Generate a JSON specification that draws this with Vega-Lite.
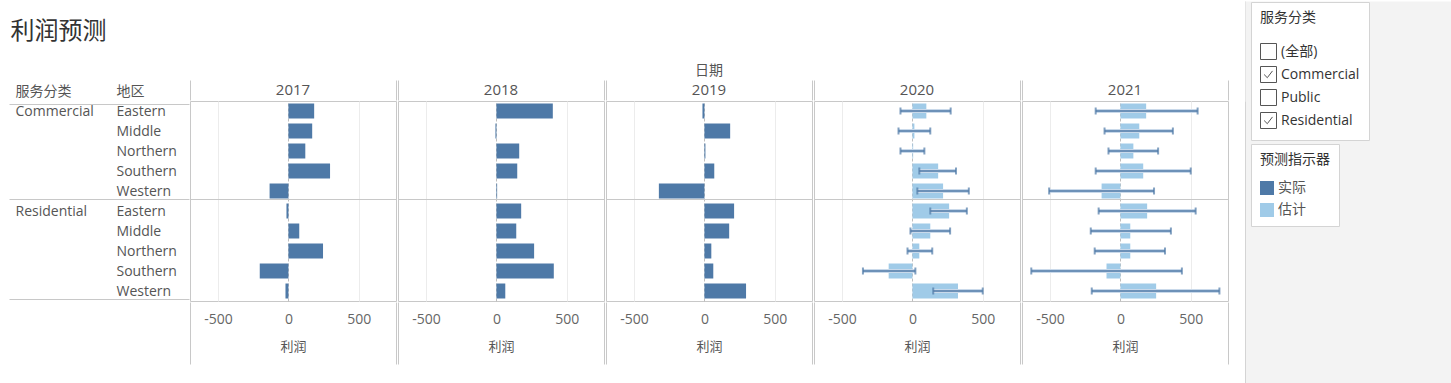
{
  "$schema": "https://vega.github.io/schema/vega-lite/v6.json",
  "padding": {"left": 8, "top": 0, "right": 0, "bottom": 0},
  "background": "white",
  "data": {"values": [
    {"年份": "2017", "服务分类": "Commercial", "地区": "Eastern", "行": "Commercial|Eastern", "利润": 183, "预测指示器": "实际"},
    {"年份": "2017", "服务分类": "Commercial", "地区": "Middle", "行": "Commercial|Middle", "利润": 169, "预测指示器": "实际"},
    {"年份": "2017", "服务分类": "Commercial", "地区": "Northern", "行": "Commercial|Northern", "利润": 120, "预测指示器": "实际"},
    {"年份": "2017", "服务分类": "Commercial", "地区": "Southern", "行": "Commercial|Southern", "利润": 296, "预测指示器": "实际"},
    {"年份": "2017", "服务分类": "Commercial", "地区": "Western", "行": "Commercial|Western", "利润": -134, "预测指示器": "实际"},
    {"年份": "2017", "服务分类": "Residential", "地区": "Eastern", "行": "Residential|Eastern", "利润": -14, "预测指示器": "实际"},
    {"年份": "2017", "服务分类": "Residential", "地区": "Middle", "行": "Residential|Middle", "利润": 77, "预测指示器": "实际"},
    {"年份": "2017", "服务分类": "Residential", "地区": "Northern", "行": "Residential|Northern", "利润": 246, "预测指示器": "实际"},
    {"年份": "2017", "服务分类": "Residential", "地区": "Southern", "行": "Residential|Southern", "利润": -204, "预测指示器": "实际"},
    {"年份": "2017", "服务分类": "Residential", "地区": "Western", "行": "Residential|Western", "利润": -21, "预测指示器": "实际"},
    {"年份": "2018", "服务分类": "Commercial", "地区": "Eastern", "行": "Commercial|Eastern", "利润": 401, "预测指示器": "实际"},
    {"年份": "2018", "服务分类": "Commercial", "地区": "Middle", "行": "Commercial|Middle", "利润": -7, "预测指示器": "实际"},
    {"年份": "2018", "服务分类": "Commercial", "地区": "Northern", "行": "Commercial|Northern", "利润": 162, "预测指示器": "实际"},
    {"年份": "2018", "服务分类": "Commercial", "地区": "Southern", "行": "Commercial|Southern", "利润": 148, "预测指示器": "实际"},
    {"年份": "2018", "服务分类": "Commercial", "地区": "Western", "行": "Commercial|Western", "利润": 5, "预测指示器": "实际"},
    {"年份": "2018", "服务分类": "Residential", "地区": "Eastern", "行": "Residential|Eastern", "利润": 176, "预测指示器": "实际"},
    {"年份": "2018", "服务分类": "Residential", "地区": "Middle", "行": "Residential|Middle", "利润": 141, "预测指示器": "实际"},
    {"年份": "2018", "服务分类": "Residential", "地区": "Northern", "行": "Residential|Northern", "利润": 268, "预测指示器": "实际"},
    {"年份": "2018", "服务分类": "Residential", "地区": "Southern", "行": "Residential|Southern", "利润": 408, "预测指示器": "实际"},
    {"年份": "2018", "服务分类": "Residential", "地区": "Western", "行": "Residential|Western", "利润": 63, "预测指示器": "实际"},
    {"年份": "2019", "服务分类": "Commercial", "地区": "Eastern", "行": "Commercial|Eastern", "利润": -14, "预测指示器": "实际"},
    {"年份": "2019", "服务分类": "Commercial", "地区": "Middle", "行": "Commercial|Middle", "利润": 183, "预测指示器": "实际"},
    {"年份": "2019", "服务分类": "Commercial", "地区": "Northern", "行": "Commercial|Northern", "利润": 7, "预测指示器": "实际"},
    {"年份": "2019", "服务分类": "Commercial", "地区": "Southern", "行": "Commercial|Southern", "利润": 70, "预测指示器": "实际"},
    {"年份": "2019", "服务分类": "Commercial", "地区": "Western", "行": "Commercial|Western", "利润": -324, "预测指示器": "实际"},
    {"年份": "2019", "服务分类": "Residential", "地区": "Eastern", "行": "Residential|Eastern", "利润": 211, "预测指示器": "实际"},
    {"年份": "2019", "服务分类": "Residential", "地区": "Middle", "行": "Residential|Middle", "利润": 176, "预测指示器": "实际"},
    {"年份": "2019", "服务分类": "Residential", "地区": "Northern", "行": "Residential|Northern", "利润": 49, "预测指示器": "实际"},
    {"年份": "2019", "服务分类": "Residential", "地区": "Southern", "行": "Residential|Southern", "利润": 63, "预测指示器": "实际"},
    {"年份": "2019", "服务分类": "Residential", "地区": "Western", "行": "Residential|Western", "利润": 296, "预测指示器": "实际"},
    {"年份": "2020", "服务分类": "Commercial", "地区": "Eastern", "行": "Commercial|Eastern", "利润": 99, "预测指示器": "估计", "下限": -85, "上限": 272},
    {"年份": "2020", "服务分类": "Commercial", "地区": "Middle", "行": "Commercial|Middle", "利润": 14, "预测指示器": "估计", "下限": -99, "上限": 127},
    {"年份": "2020", "服务分类": "Commercial", "地区": "Northern", "行": "Commercial|Northern", "利润": 5, "预测指示器": "估计", "下限": -85, "上限": 85},
    {"年份": "2020", "服务分类": "Commercial", "地区": "Southern", "行": "Commercial|Southern", "利润": 183, "预测指示器": "估计", "下限": 49, "上限": 310},
    {"年份": "2020", "服务分类": "Commercial", "地区": "Western", "行": "Commercial|Western", "利润": 218, "预测指示器": "估计", "下限": 35, "上限": 401},
    {"年份": "2020", "服务分类": "Residential", "地区": "Eastern", "行": "Residential|Eastern", "利润": 261, "预测指示器": "估计", "下限": 127, "上限": 387},
    {"年份": "2020", "服务分类": "Residential", "地区": "Middle", "行": "Residential|Middle", "利润": 127, "预测指示器": "估计", "下限": -14, "上限": 268},
    {"年份": "2020", "服务分类": "Residential", "地区": "Northern", "行": "Residential|Northern", "利润": 49, "预测指示器": "估计", "下限": -35, "上限": 141},
    {"年份": "2020", "服务分类": "Residential", "地区": "Southern", "行": "Residential|Southern", "利润": -169, "预测指示器": "估计", "下限": -352, "上限": 21},
    {"年份": "2020", "服务分类": "Residential", "地区": "Western", "行": "Residential|Western", "利润": 324, "预测指示器": "估计", "下限": 148, "上限": 500},
    {"年份": "2021", "服务分类": "Commercial", "地区": "Eastern", "行": "Commercial|Eastern", "利润": 183, "预测指示器": "估计", "下限": -176, "上限": 549},
    {"年份": "2021", "服务分类": "Commercial", "地区": "Middle", "行": "Commercial|Middle", "利润": 134, "预测指示器": "估计", "下限": -113, "上限": 373},
    {"年份": "2021", "服务分类": "Commercial", "地区": "Northern", "行": "Commercial|Northern", "利润": 92, "预测指示器": "估计", "下限": -85, "上限": 268},
    {"年份": "2021", "服务分类": "Commercial", "地区": "Southern", "行": "Commercial|Southern", "利润": 162, "预测指示器": "估计", "下限": -176, "上限": 500},
    {"年份": "2021", "服务分类": "Commercial", "地区": "Western", "行": "Commercial|Western", "利润": -134, "预测指示器": "估计", "下限": -507, "上限": 239},
    {"年份": "2021", "服务分类": "Residential", "地区": "Eastern", "行": "Residential|Eastern", "利润": 190, "预测指示器": "估计", "下限": -155, "上限": 535},
    {"年份": "2021", "服务分类": "Residential", "地区": "Middle", "行": "Residential|Middle", "利润": 70, "预测指示器": "估计", "下限": -211, "上限": 359},
    {"年份": "2021", "服务分类": "Residential", "地区": "Northern", "行": "Residential|Northern", "利润": 70, "预测指示器": "估计", "下限": -183, "上限": 317},
    {"年份": "2021", "服务分类": "Residential", "地区": "Southern", "行": "Residential|Southern", "利润": -99, "预测指示器": "估计", "下限": -634, "上限": 437},
    {"年份": "2021", "服务分类": "Residential", "地区": "Western", "行": "Residential|Western", "利润": 254, "预测指示器": "估计", "下限": -204, "上限": 704}
  ]},
  "concat": [
    {
      "title": {"text": ["", "利润预测"], "anchor": "start", "frame": "bounds", "fontSize": 24, "lineHeight": 20, "font": "Noto Sans CJK SC", "fontWeight": "normal", "color": "#333", "baseline": "top", "offset": 20, "dx": 2},
      "facet": {"column": {"field": "年份", "type": "ordinal", "title": "日期",
        "header": {"labelFontSize": 15, "labelColor": "#555", "labelPadding": -18, "labelFont": "Open Sans", "titleFontSize": 14, "titleColor": "#555", "titleFontWeight": "normal", "titleFont": "Noto Sans CJK SC", "titlePadding": -9}}},
      "spacing": 0,
      "spec": {
        "width": 206,
        "height": 200,
        "layer": [
          {
            "mark": {"type": "bar"},
            "encoding": {
              "y": {"field": "行", "type": "nominal",
                "scale": {"domain": ["Commercial|Eastern","Commercial|Middle","Commercial|Northern","Commercial|Southern","Commercial|Western","Residential|Eastern","Residential|Middle","Residential|Northern","Residential|Southern","Residential|Western"], "paddingInner": 0.25, "paddingOuter": 0.125},
                "axis": {"orient": "left", "title": null, "domain": false, "ticks": false, "tickBand": "extent", "labelAlign": "left", "labelBaseline": "middle", "labelPadding": 73, "labelFontSize": 14, "labelColor": "#555", "labelLineHeight": 20,
                  "labelExpr": "datum.value === 'Commercial|Eastern' ? ['地区', 'Eastern'] : split(datum.value, '|')[1]",
                  "labelOffset": {"condition": {"test": "datum.value === 'Commercial|Eastern'", "value": -20}, "value": 0},
                  "grid": true, "gridColor": "#c8c8c8",
                  "gridOpacity": {"condition": {"test": "datum.value === 'Commercial|Western'", "value": 1}, "value": 0}}},
              "x": {"field": "利润", "type": "quantitative",
                "scale": {"domain": [-700, 765], "nice": false, "zero": false},
                "axis": {"orient": "bottom", "values": [-500, 0, 500], "labelExpr": "replace(datum.label, '−', '-')", "title": "利润", "domain": false, "ticks": false, "labelFontSize": 14, "labelColor": "#666", "labelPadding": 10, "titleFontSize": 13, "titleColor": "#555", "titleFontWeight": "normal", "titleFont": "Noto Sans CJK SC", "titlePadding": 14,
                  "grid": true,
                  "gridColor": {"condition": {"test": "datum.value === 0", "value": "#bdbdbd"}, "value": "#ececec"},
                  "gridDash": {"condition": {"test": "datum.value === 0", "value": [3, 2]}, "value": []}}},
              "color": {"field": "预测指示器", "type": "nominal",
                "scale": {"domain": ["实际", "估计"], "range": ["#4e79a7", "#a0cbe8"]},
                "legend": {"title": "预测指示器", "orient": "none", "legendX": 1061, "legendY": 43, "symbolType": "square", "symbolSize": 196, "symbolStrokeWidth": 0, "rowPadding": 8, "titlePadding": 14, "labelColor": "#555"}}
            }
          },
          {
            "mark": {"type": "rule", "color": "#c9d9ea", "strokeWidth": 4},
            "encoding": {
              "y": {"field": "行", "type": "nominal",
                "axis": {"orient": "left", "title": null, "domain": false, "ticks": true, "tickBand": "extent", "tickSize": 180, "tickColor": "#c8c8c8",
                  "tickOpacity": {"condition": {"test": "datum.value === 'Commercial|Western' || datum.value === 'Residential|Western' || !!datum.extra", "value": 1}, "value": 0},
                  "labelAlign": "left", "labelBaseline": "middle", "labelPadding": -6, "labelFontSize": 14, "labelColor": "#555", "labelLineHeight": 20,
                  "labelExpr": "datum.value === 'Commercial|Eastern' ? ['服务分类', 'Commercial'] : datum.value === 'Residential|Eastern' ? 'Residential' : ''",
                  "labelOffset": {"condition": {"test": "datum.value === 'Commercial|Eastern'", "value": -20}, "value": 0},
                  "grid": false}},
              "x": {"field": "下限", "type": "quantitative",
                "axis": {"orient": "bottom", "values": [-700, 765], "title": null, "labels": false, "domain": false, "grid": false, "ticks": true, "tickSize": 62, "tickColor": "#c8c8c8"}},
              "x2": {"field": "上限"}
            }
          },
          {
            "mark": {"type": "rule", "color": "#4e79a7", "strokeWidth": 1.5},
            "encoding": {
              "y": {"field": "行", "type": "nominal", "axis": null},
              "x": {"field": "下限", "type": "quantitative",
                "axis": {"orient": "top", "values": [-700, 765], "title": null, "labels": false, "domain": false, "grid": false, "ticks": true, "tickSize": 20, "tickColor": "#c8c8c8"}},
              "x2": {"field": "上限"}
            }
          },
          {
            "mark": {"type": "tick", "color": "#4e79a7", "size": 7, "thickness": 2},
            "encoding": {
              "y": {"field": "行", "type": "nominal", "axis": null},
              "x": {"field": "下限", "type": "quantitative", "axis": null}
            }
          },
          {
            "mark": {"type": "tick", "color": "#4e79a7", "size": 7, "thickness": 2},
            "encoding": {
              "y": {"field": "行", "type": "nominal", "axis": null},
              "x": {"field": "上限", "type": "quantitative", "axis": null}
            }
          }
        ],
        "resolve": {"axis": {"x": "independent", "y": "independent"}}
      }
    },
    {
      "width": 207,
      "height": 283,
      "view": {"fill": "#f3f3f3", "stroke": null},
      "mark": {"type": "point", "opacity": 0, "filled": false, "color": "#555"},
      "encoding": {
        "x": {"datum": 0, "type": "quantitative", "scale": {"domain": [0, 1]},
          "axis": {"orient": "top", "domain": true, "domainColor": "#f3f3f3", "domainWidth": 200, "domainCap": "butt", "labels": false, "ticks": true, "values": [0], "tickSize": 100, "tickColor": "#d4d4d4", "tickWidth": 1, "grid": false, "title": null}},
        "y": {"datum": 0, "type": "quantitative", "scale": {"domain": [0, 1]},
          "axis": {"orient": "left", "domain": true, "domainColor": "#d4d4d4", "labels": false, "ticks": false, "grid": false, "title": null}},
        "shape": {"field": "服务分类", "type": "nominal",
          "scale": {"domain": ["(全部)", "Commercial", "Public", "Residential"],
            "range": ["M-1,-1H1V1H-1Z", "M-1,-1H1V1H-1Z M-0.55,0L-0.15,0.4L0.5,-0.45", "M-1,-1H1V1H-1Z", "M-1,-1H1V1H-1Z M-0.55,0L-0.15,0.4L0.5,-0.45"]},
          "legend": {"title": "服务分类", "orient": "none", "legendX": 1061, "legendY": -99, "symbolSize": 256, "symbolStrokeColor": "#555", "symbolFillColor": "white", "symbolStrokeWidth": 1, "rowPadding": 2, "titlePadding": 18, "labelColor": "#333"}}
      }
    }
  ],
  "columns": 2,
  "align": "none",
  "bounds": "full",
  "spacing": 13,
  "config": {
    "font": "'Open Sans', 'Noto Sans CJK SC'",
    "view": {"stroke": "#c8c8c8"},
    "axis": {"labelFont": "'Open Sans', 'Noto Sans CJK SC'"},
    "legend": {"titleFont": "Noto Sans CJK SC", "titleFontSize": 14, "titleFontWeight": "normal", "titleColor": "#333", "labelFont": "'Open Sans', 'Noto Sans CJK SC'", "labelFontSize": 14, "padding": 9, "fillColor": "white", "strokeColor": "#d4d4d4"}
  }
}
